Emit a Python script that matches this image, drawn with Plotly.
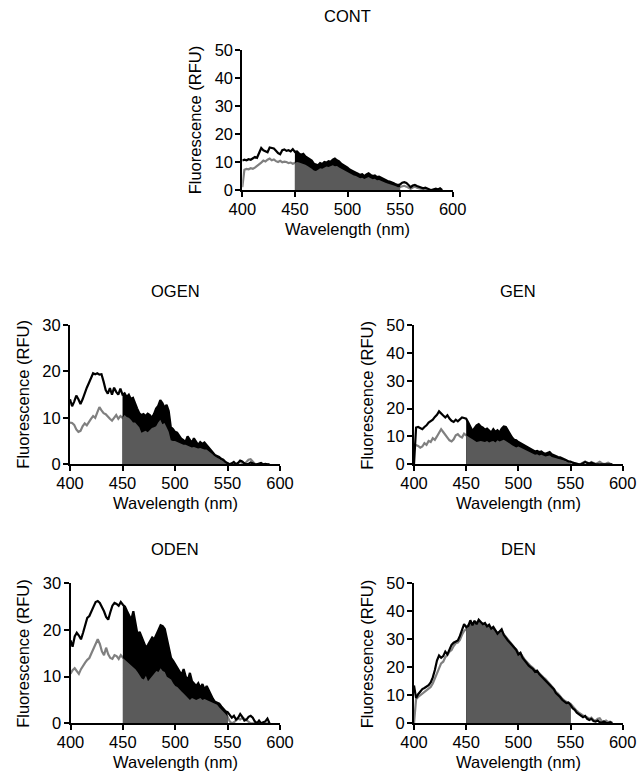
import numpy as np
import plotly.graph_objects as go

# Emission wavelengths (nm), 2 nm steps
WAVELENGTH = list(range(400, 592, 2))

# Fluorescence (RFU) per sample: black trace and grey trace
CONT_BLACK = [10.5, 10.8, 10.6, 11.0, 10.8, 11.2, 11.8, 11.5, 13.0, 15.0,
              14.2, 13.8, 13.5, 15.2, 15.0, 14.8, 14.0, 13.2, 12.8, 14.2,
              14.5, 14.0, 14.2, 13.8, 14.6, 13.6, 13.8, 13.0, 12.6, 12.9,
              12.0, 11.6, 11.0, 10.5, 9.4, 9.0, 8.8, 9.6, 9.3, 10.0,
              9.8, 10.3, 10.1, 10.8, 11.2, 10.6, 10.2, 9.4, 9.0, 8.5,
              8.0, 7.3, 7.0, 6.6, 6.2, 5.8, 5.4, 5.6, 5.0, 5.6,
              6.0, 5.4, 5.0, 5.2, 4.6, 4.8, 4.4, 3.8, 3.6, 3.2,
              3.0, 2.8, 2.4, 2.0, 1.8, 2.0, 2.6, 2.8, 2.5, 1.8,
              1.0, 1.6, 1.8, 1.4, 1.2, 0.8, 0.6, 0.8, 0.4, 0.2,
              0.0, 0.3, 0.5, 0.2, 0.6, 0.0]
CONT_GRAY = [1.0, 7.2, 7.5, 7.4, 7.8, 7.6, 8.0, 8.5, 9.2, 9.8,
             10.5, 10.2, 10.8, 11.2, 10.6, 10.9, 10.3, 10.0, 10.4, 9.9,
             10.1, 10.0, 9.6, 9.8, 9.4, 9.6, 10.0, 9.8, 9.6, 9.4,
             9.0, 8.6, 8.2, 7.6, 7.0, 6.8, 7.2, 7.8, 7.6, 8.0,
             8.4, 8.2, 8.6, 8.8, 8.5, 8.6, 8.0, 7.6, 7.0, 6.8,
             6.4, 6.0, 5.6, 5.2, 5.0, 4.6, 4.2, 4.4, 3.9, 4.3,
             4.6, 4.2, 3.8, 4.0, 3.5, 3.6, 3.2, 2.8, 2.6, 2.3,
             2.1, 2.0, 1.6, 1.3, 1.0, 1.1, 1.4, 1.5, 1.2, 0.8,
             0.4, 0.9, 1.2, 0.8, 0.6, 0.4, 0.5, 0.3, 0.2, 0.1,
             0.0, 0.1, 0.2, 0.0, 0.3, 0.0]

OGEN_BLACK = [14.0, 12.5, 13.5, 14.8, 14.0, 13.0, 14.0, 15.5, 16.5, 17.5,
              18.5, 19.6, 19.4, 19.6, 19.3, 19.4, 17.8, 16.0, 15.2, 16.4,
              15.0, 16.5, 15.6, 15.0, 16.3, 15.0, 15.3, 14.5, 15.0, 14.0,
              14.3, 13.0, 12.0, 11.0, 10.6, 10.8, 10.4, 10.9, 10.6, 10.0,
              10.8, 12.0, 12.6, 13.8, 13.2, 12.2, 12.8, 11.5, 8.0, 7.6,
              7.0, 6.8, 6.0, 5.5, 5.2, 4.8, 6.0, 5.2, 4.6, 5.6,
              5.0, 4.2, 4.8, 4.4, 4.7, 4.2, 3.6, 3.0, 2.6, 2.0,
              1.8, 1.6, 1.2, 1.0, 0.5, 0.3, 0.0, 0.2, 0.5, 0.0,
              0.3, 0.8, 0.6, 0.2, 0.0, 0.1, 0.4, 0.2, 0.0, 0.0,
              0.1, 0.3, 0.0, 0.1, 0.0, 0.0]
OGEN_GRAY = [9.0, 8.9, 8.5, 7.5, 7.0, 7.2, 8.2, 8.8, 8.4, 9.2,
             9.8, 10.4, 10.0, 11.2, 12.3, 11.6, 11.0, 10.8, 10.2, 9.8,
             9.4, 10.0, 10.6, 9.8, 10.4, 10.0, 10.6, 10.2, 10.0, 9.6,
             9.0, 9.0, 8.6, 8.0, 6.8, 7.0, 7.2, 6.9, 7.4, 7.8,
             8.0, 8.2, 9.0, 9.6, 8.6, 8.9, 8.0, 7.0, 5.2, 5.0,
             5.0, 4.8, 4.6, 4.4, 4.2, 4.2, 4.0, 3.8, 3.6, 3.7,
             3.6, 3.4, 3.5, 3.3, 3.2, 3.2, 2.8, 2.4, 2.0, 1.6,
             1.4, 1.2, 1.0, 0.8, 0.5, 0.2, 0.0, 0.1, 0.3, 0.0,
             0.2, 0.5, 0.3, 0.1, 0.5, 1.0, 1.1, 0.5, 0.1, 0.0,
             0.0, 0.1, 0.0, 0.0, 0.0, 0.0]

GEN_BLACK = [0.0, 13.2, 13.4, 13.0, 12.6, 13.4, 14.0, 15.0, 15.6, 16.0,
             17.0, 17.8, 19.0, 18.4, 17.5, 16.8, 17.6, 16.4, 15.6, 15.2,
             16.0, 15.4, 16.2, 16.8, 16.6, 16.4, 15.0, 13.2, 12.0, 13.0,
             14.0, 14.4, 13.6, 13.2, 12.4, 12.8, 12.2, 11.4, 12.6, 11.6,
             12.2, 11.4, 12.8, 13.6, 13.4, 12.0, 10.8, 9.6, 8.8, 8.6,
             8.0, 7.6, 7.0, 6.5, 6.2, 5.8, 5.5, 5.0, 4.6, 4.8,
             4.4, 4.6, 4.0, 3.8, 4.0, 4.4, 3.6, 3.2, 3.0, 2.6,
             2.5, 2.2, 1.8, 1.5, 1.0, 1.0, 0.6, 0.5, 0.2, 0.0,
             0.0, 0.4, 0.8, 0.5, 0.3, 0.6, 0.2, 0.0, 0.0, 0.0,
             0.0, 0.0, 0.0, 0.0, 0.0, 0.0]
GEN_GRAY = [7.2, 7.0, 6.6, 6.0, 6.4, 7.6, 7.0, 8.4, 8.0, 9.4,
            8.8, 10.0, 11.4, 12.6, 11.6, 10.4, 9.6, 8.6, 8.2, 9.0,
            10.4, 10.8, 10.0, 9.6, 11.0, 10.4, 9.8, 9.4, 9.0, 8.4,
            8.0, 8.2, 8.4, 8.2, 8.0, 8.4, 7.8, 8.2, 8.4, 7.8,
            8.6, 8.2, 8.4, 8.8, 8.4, 8.0, 7.4, 6.8, 6.4, 6.0,
            6.4, 6.0, 5.6, 5.2, 4.8, 4.4, 4.2, 3.8, 3.4, 3.6,
            3.2, 3.4, 3.0, 2.8, 3.0, 3.2, 2.6, 2.4, 2.2, 1.9,
            1.8, 1.6, 1.3, 1.1, 0.8, 0.7, 0.5, 0.3, 0.1, 0.0,
            0.2, 0.5, 1.0, 0.6, 0.3, 0.8, 0.4, 0.1, 0.5, 0.9,
            0.4, 0.1, 0.3, 0.6, 0.2, 0.0]

ODEN_BLACK = [17.8, 16.4, 18.6, 19.4, 18.8, 18.0, 19.4, 21.0, 22.6, 23.0,
              24.2, 25.0, 26.0, 26.2, 25.8, 25.0, 24.0, 22.8, 22.2, 23.8,
              25.2, 25.8, 25.6, 25.2, 26.0, 25.4, 25.0, 24.0, 23.0, 22.2,
              24.0, 21.0, 19.0, 19.6, 18.4, 17.0, 16.2, 16.8, 17.6, 18.4,
              18.0, 19.2, 20.0, 21.0, 20.8, 20.2, 18.0, 16.0, 14.0, 13.4,
              12.6, 12.0, 11.0, 10.4, 11.6, 10.0, 9.2, 10.8, 9.0, 8.4,
              8.0, 8.6, 7.6, 8.4, 7.2, 8.0, 7.0, 6.2, 5.2, 4.6,
              4.4, 4.2, 3.6, 3.0, 2.6, 2.4, 1.8, 1.2, 1.6, 0.8,
              1.2, 2.0, 1.4, 0.6, 0.8, 1.4, 1.6, 1.2, 0.4, 0.0,
              0.6, 0.0, 0.2, 0.4, 1.0, 0.0]
ODEN_GRAY = [10.6, 11.4, 11.8, 11.2, 10.6, 11.6, 12.4, 13.0, 13.6, 14.0,
             15.0, 16.0, 17.2, 18.0, 17.0, 15.4, 14.6, 16.2, 14.8, 14.0,
             13.8, 14.6, 14.4, 13.8, 14.6, 14.0, 13.6, 13.2, 12.8, 12.6,
             12.2, 11.6, 11.0, 10.4, 9.6, 9.4, 10.2, 9.0, 9.6, 10.2,
             10.8, 11.2, 11.0, 11.8, 11.2, 11.0, 10.0, 9.6, 9.4, 8.6,
             8.0, 7.8, 7.2, 6.8, 6.4, 6.0, 5.6, 5.0, 5.4, 5.2,
             5.0, 5.2, 5.4, 5.0, 5.2, 5.0, 4.8, 4.6, 4.4, 4.2,
             4.0, 3.4, 3.0, 2.6, 2.0, 1.4, 0.4, 0.0, 0.2, 0.6,
             1.0, 0.8, 1.2, 1.0, 0.6, 0.2, 0.0, 0.0, 0.0, 0.0,
             0.0, 0.0, 0.0, 0.0, 0.0, 0.0]

DEN_BLACK = [13.5, 9.0, 10.4, 11.4, 12.2, 12.6, 13.0, 13.6, 14.6, 16.4,
             19.0, 22.4, 24.2, 23.4, 24.0, 25.6, 24.6, 26.4, 28.0, 28.8,
             29.2, 29.6, 31.2, 33.4, 35.4, 34.4, 34.8, 36.8, 35.0, 36.6,
             35.4, 37.0, 36.2, 35.4, 35.8, 34.6, 35.2, 33.8, 34.4, 33.2,
             32.0, 32.8, 33.6, 31.6, 30.4, 29.6, 28.8, 27.8, 27.0, 26.2,
             24.6, 25.2, 23.4, 22.4, 21.8, 20.6, 20.0, 19.4, 18.4, 18.8,
             17.6, 16.8, 16.2, 15.4, 14.6, 13.6, 12.8, 12.2, 10.8, 10.2,
             9.4, 8.4, 7.8, 7.2, 7.4, 6.6, 5.4, 4.8, 3.8, 3.2,
             2.8, 2.2, 2.6, 1.6, 1.2, 1.6, 0.8, 0.6, 1.0, 0.4,
             0.2, 0.6, 0.2, 0.0, 0.4, 0.0]
DEN_GRAY = [0.0, 8.6, 9.4, 10.0, 10.6, 11.2, 11.8, 12.4, 13.0, 14.2,
            15.8, 17.6, 19.6, 21.4, 22.0, 23.6, 24.4, 25.6, 26.2, 27.6,
            28.6, 28.8, 29.8, 31.6, 33.0, 33.6, 35.0, 35.6, 35.2, 36.2,
            35.8, 36.4, 35.8, 35.6, 35.2, 34.8, 34.6, 34.0, 33.6, 33.0,
            32.4, 32.6, 33.0, 31.8, 30.8, 29.8, 29.0, 28.0, 27.2, 26.4,
            25.2, 25.0, 23.8, 22.8, 22.0, 21.0, 20.4, 19.8, 19.0, 18.6,
            17.8, 17.2, 16.4, 15.8, 14.8, 14.0, 13.2, 12.4, 11.2, 10.6,
            9.6, 8.8, 8.2, 7.6, 7.2, 7.0, 6.0, 5.4, 4.4, 3.8,
            3.2, 2.8, 2.4, 2.2, 1.6, 2.0, 1.2, 1.0, 1.6, 1.8,
            0.8, 0.6, 1.0, 0.4, 0.6, 0.2]

PANEL_NAMES = ["CONT", "OGEN", "GEN", "ODEN", "DEN"]
BLACK_SERIES = [CONT_BLACK, OGEN_BLACK, GEN_BLACK, ODEN_BLACK, DEN_BLACK]
GRAY_SERIES = [CONT_GRAY, OGEN_GRAY, GEN_GRAY, ODEN_GRAY, DEN_GRAY]
Y_MAX = [50, 30, 50, 30, 50]
X_TICKS = [400, 450, 500, 550, 600]

# integration window shaded under the curves
BAND_LO, BAND_HI = 450, 550

# ---- layout geometry (pixels on a 638 x 778 page) ----
W, H = 638, 778
PLOT_BOXES = [  # left, right, top, bottom
    (242.3, 452.7, 50.0, 190.0),
    (70.0, 280.0, 325.0, 464.3),
    (414.0, 622.7, 325.0, 464.3),
    (70.5, 280.0, 583.3, 723.3),
    (414.0, 622.7, 583.3, 723.3),
]

FONT = "Liberation Sans, Arial, Helvetica, sans-serif"
FS = 16.5
LINE_BLACK = "#000000"
LINE_GRAY = "#808080"
FILL_GRAY = "#5a5a5a"


def px_x(px):
    return px / W


def px_y(py):
    return 1 - py / H


wl = np.array(WAVELENGTH, dtype=float)
band = (wl >= BAND_LO) & (wl <= BAND_HI)

fig = go.Figure()
annotations = []

for i, name in enumerate(PANEL_NAMES):
    n = "" if i == 0 else str(i + 1)
    xa, ya = "x" + n, "y" + n
    black = np.array(BLACK_SERIES[i], dtype=float)
    gray = np.array(GRAY_SERIES[i], dtype=float)

    # grey spectrum (sits beneath the shaded window)
    fig.add_trace(go.Scatter(x=wl, y=gray, mode="lines", xaxis=xa, yaxis=ya,
                             line=dict(color=LINE_GRAY, width=2.2), showlegend=False))
    # shaded areas over the integration window
    fig.add_trace(go.Scatter(x=wl[band], y=black[band], mode="lines", xaxis=xa, yaxis=ya,
                             fill="tozeroy", fillcolor=LINE_BLACK,
                             line=dict(color=LINE_BLACK, width=0), showlegend=False))
    fig.add_trace(go.Scatter(x=wl[band], y=gray[band], mode="lines", xaxis=xa, yaxis=ya,
                             fill="tozeroy", fillcolor=FILL_GRAY,
                             line=dict(color=FILL_GRAY, width=0), showlegend=False))
    # black spectrum on top
    fig.add_trace(go.Scatter(x=wl, y=black, mode="lines", xaxis=xa, yaxis=ya,
                             line=dict(color=LINE_BLACK, width=2.2), showlegend=False))

    left, right, top, bottom = PLOT_BOXES[i]
    axis_common = dict(
        automargin=False,
        showgrid=False, zeroline=False, showline=True, linecolor="black", linewidth=2,
        ticks="outside", ticklen=5, tickwidth=2, tickcolor="black",
        tickfont=dict(family=FONT, size=FS, color="black"),
    )
    fig.layout["xaxis" + n] = dict(
        domain=[px_x(left), px_x(right)], anchor=ya, range=[400, 600],
        tickvals=X_TICKS, ticklabelstandoff=-2, **axis_common)
    fig.layout["yaxis" + n] = dict(
        domain=[px_y(bottom), px_y(top)], anchor=xa, range=[0, Y_MAX[i]],
        tickvals=list(range(0, Y_MAX[i] + 1, 10)), ticklabelstandoff=-1, **axis_common)

    cx = (left + right) / 2
    cy = (top + bottom) / 2
    annotations.append(dict(text=name, x=px_x(cx), y=px_y(top - 34), xref="paper", yref="paper",
                            xanchor="center", yanchor="middle", showarrow=False,
                            font=dict(family=FONT, size=FS, color="black")))
    annotations.append(dict(text="Wavelength (nm)", x=px_x(cx), y=px_y(bottom + 39),
                            xref="paper", yref="paper", xanchor="center", yanchor="middle",
                            showarrow=False, font=dict(family=FONT, size=FS, color="black")))
    annotations.append(dict(text="Fluorescence (RFU)", x=px_x(left - 47), y=px_y(cy),
                            xref="paper", yref="paper", xanchor="center", yanchor="middle",
                            textangle=-90, showarrow=False,
                            font=dict(family=FONT, size=FS, color="black")))

fig.update_layout(
    template="none",
    width=W, height=H, margin=dict(l=0, r=0, t=0, b=0, autoexpand=False),
    paper_bgcolor="white", plot_bgcolor="white",
    annotations=annotations, showlegend=False,
)

fig.write_html("out.html")
